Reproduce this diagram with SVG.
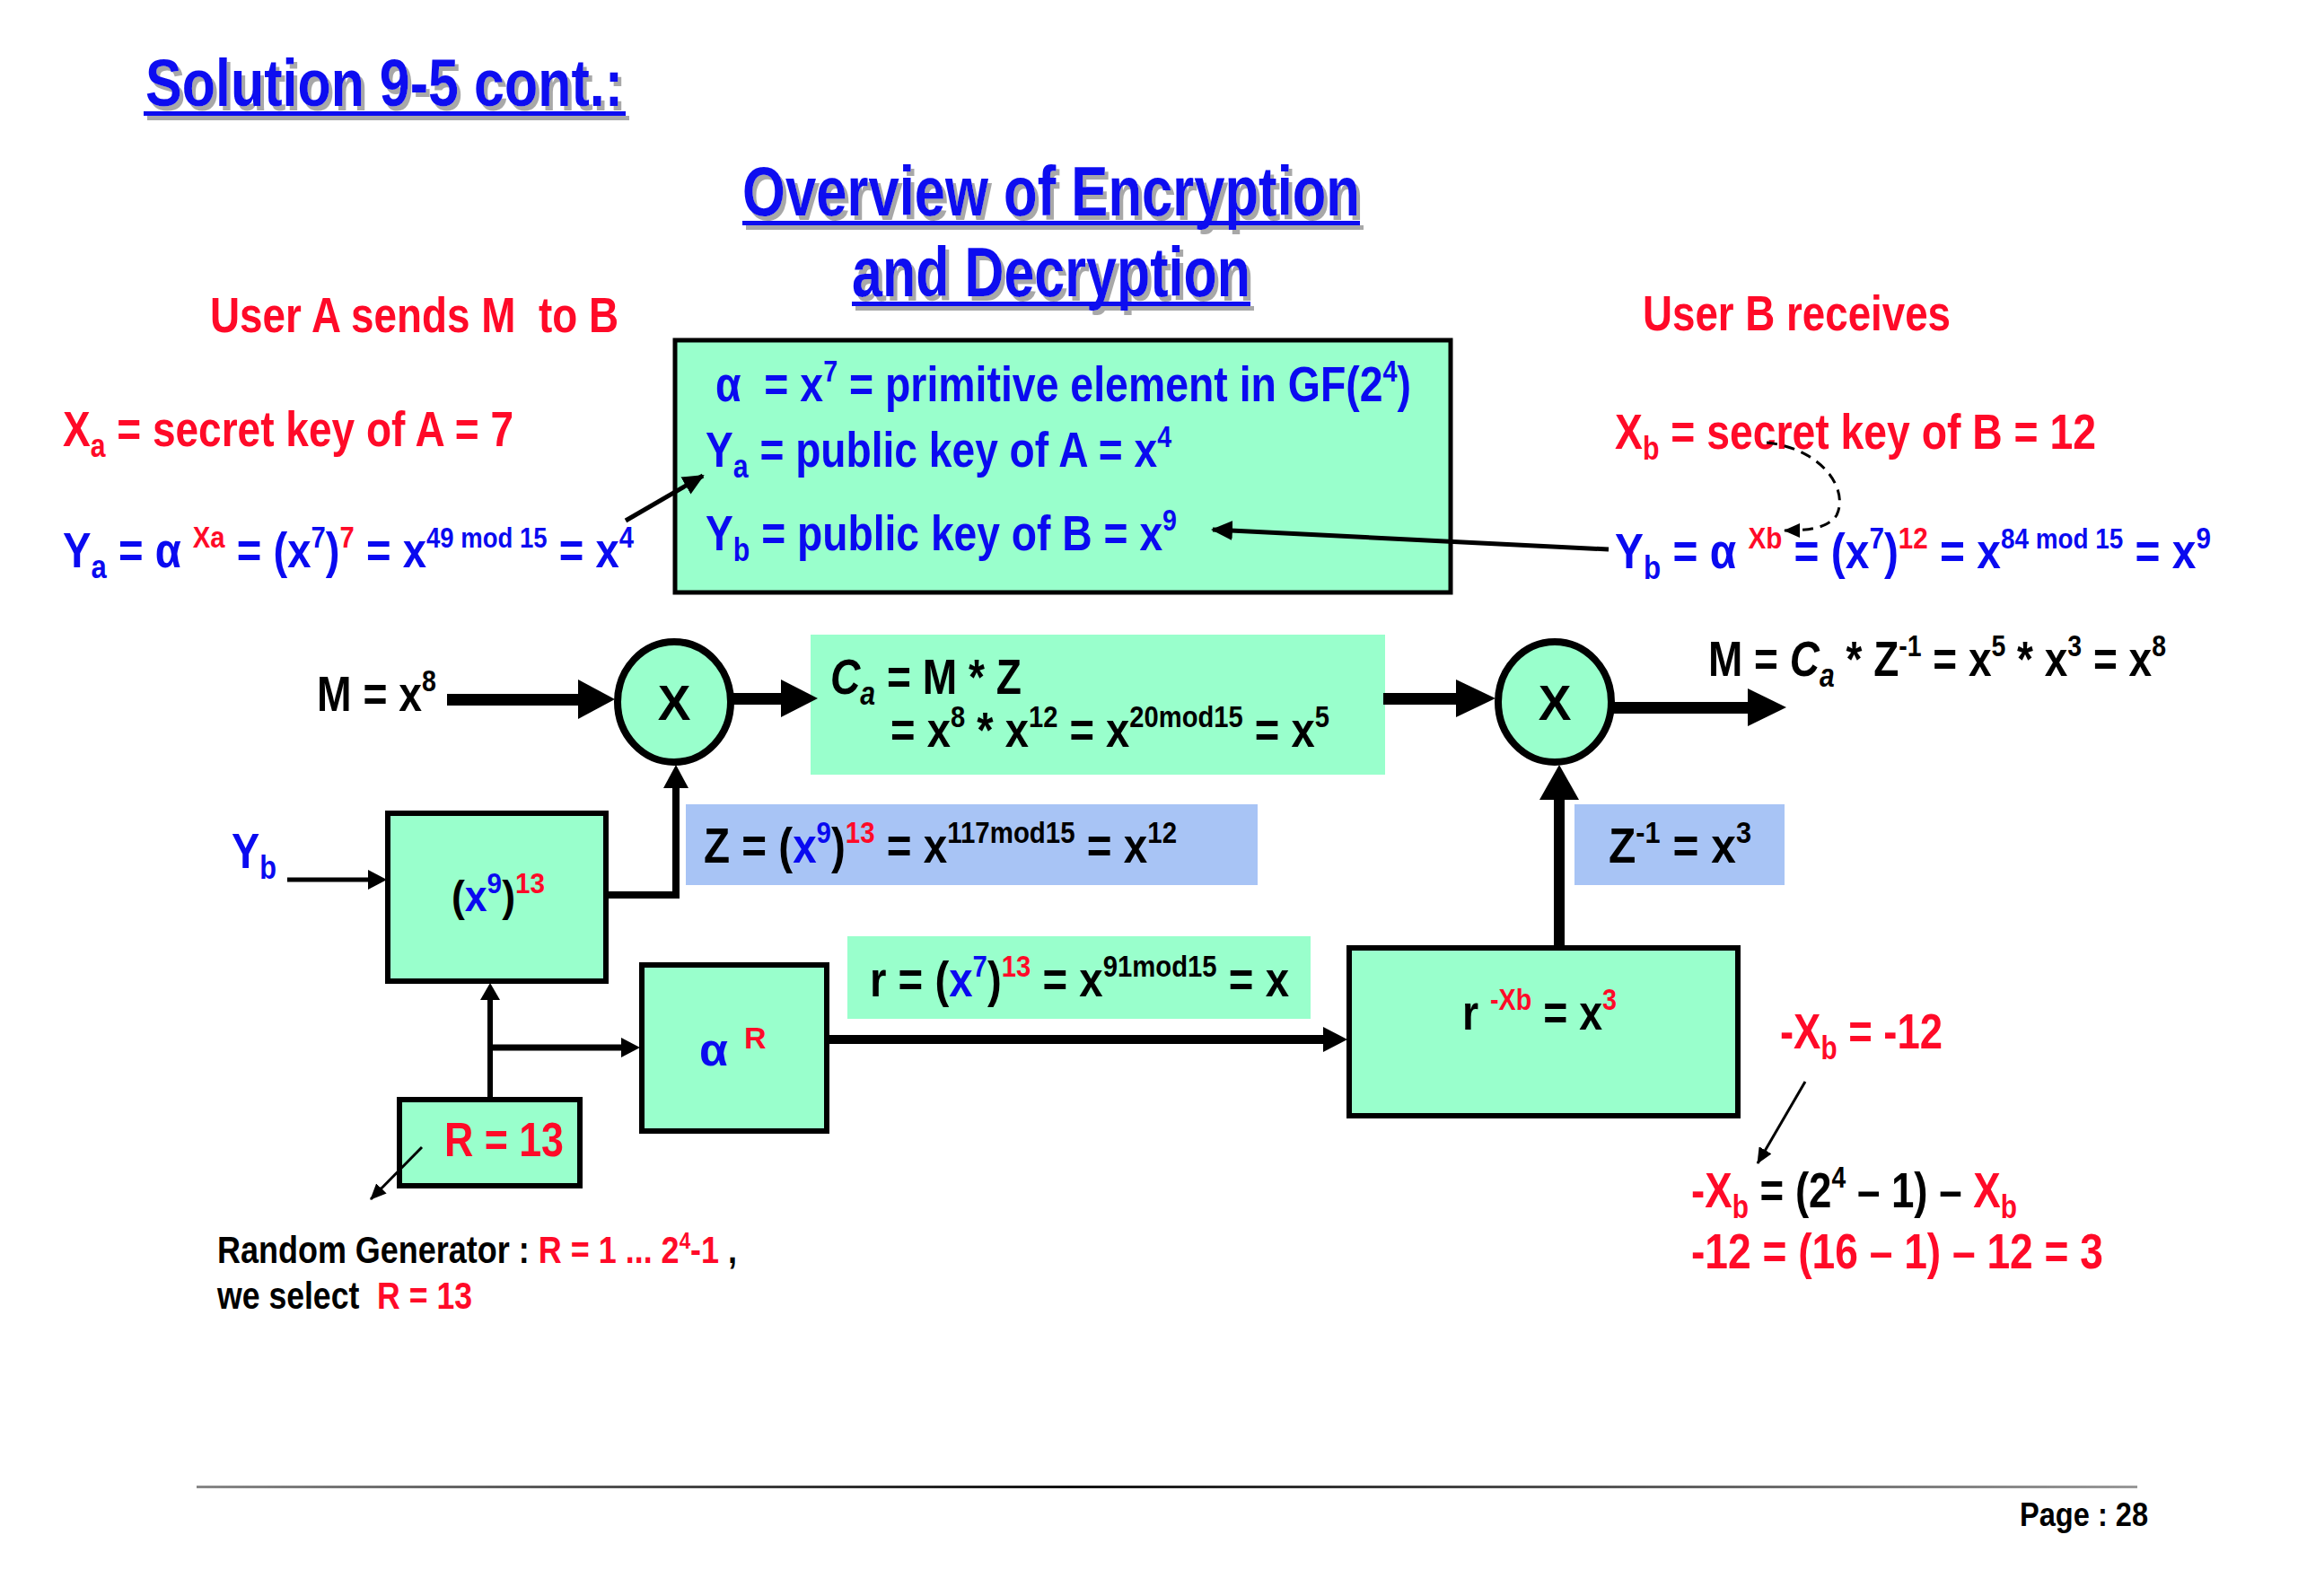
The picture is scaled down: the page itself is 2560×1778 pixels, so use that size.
<svg xmlns="http://www.w3.org/2000/svg" width="2560" height="1778" viewBox="0 0 2560 1778">
<style>
.t{font-family:"Liberation Sans",Arial,sans-serif;font-weight:bold}
.b{fill:#0A0AF0}.r{fill:#FF0A28}.k{fill:#000}
.mint{fill:#99FFCC}.blu{fill:#A8C4F5}
.box{fill:#99FFCC;stroke:#000;stroke-width:6}
.ln{stroke:#000;fill:none}
</style>
<defs>
<marker id="ah" markerUnits="userSpaceOnUse" markerWidth="24" markerHeight="24" viewBox="0 0 24 24" refX="22" refY="12" orient="auto"><path d="M0,1 L24,12 L0,23 z" fill="#000"/></marker>
<marker id="as" markerUnits="userSpaceOnUse" markerWidth="18" markerHeight="16" viewBox="0 0 18 16" refX="17" refY="8" orient="auto"><path d="M0,0 L18,8 L0,16 z" fill="#000"/></marker>
<filter id="shadow" x="-5%" y="-20%" width="110%" height="150%"><feOffset in="SourceAlpha" dx="4" dy="5" result="o"/><feFlood flood-color="#A8A8A8"/><feComposite in2="o" operator="in" result="s"/><feMerge><feMergeNode in="s"/><feMergeNode in="SourceGraphic"/></feMerge></filter>
<linearGradient id="fg" x1="0" x2="1" y1="0" y2="0"><stop offset="0" stop-color="#888"/><stop offset="0.45" stop-color="#111"/><stop offset="1" stop-color="#999"/></linearGradient>
</defs>
<rect width="2560" height="1778" fill="#fff"/>

<g id="titles" filter="url(#shadow)">
<text class="t b" x="162" y="118" font-size="75" textLength="532" lengthAdjust="spacingAndGlyphs">Solution 9-5 cont.:</text>
<rect x="160" y="124" width="537" height="5" class="b"/>
<text class="t b" x="827" y="240" font-size="77" textLength="688" lengthAdjust="spacingAndGlyphs">Overview of Encryption</text>
<rect x="827" y="246" width="688" height="5" class="b"/>
<text class="t b" x="949" y="330" font-size="77" textLength="444" lengthAdjust="spacingAndGlyphs">and Decryption</text>
<rect x="949" y="336" width="444" height="5" class="b"/>
</g>

<g id="userA">
<text class="t r" x="234" y="370" font-size="55" textLength="455" lengthAdjust="spacingAndGlyphs" xml:space="preserve">User A sends M  to B</text>
<text class="t r" x="70" y="497" font-size="55" textLength="502" lengthAdjust="spacingAndGlyphs">X<tspan font-size="36" dy="12">a</tspan><tspan dy="-12"> = secret key of A = 7</tspan></text>
<text class="t b" x="70" y="632" font-size="55" textLength="636" lengthAdjust="spacingAndGlyphs">Y<tspan font-size="36" dy="12">a</tspan><tspan dy="-12"> = α </tspan><tspan class="r" font-size="34" dy="-22">Xa</tspan><tspan dy="22"> = (x</tspan><tspan font-size="34" dy="-22">7</tspan><tspan dy="22">)</tspan><tspan class="r" font-size="34" dy="-22">7</tspan><tspan dy="22"> = x</tspan><tspan font-size="32" dy="-22">49 mod 15</tspan><tspan dy="22"> = x</tspan><tspan font-size="34" dy="-22">4</tspan></text>
</g>

<g id="userB">
<text class="t r" x="1830" y="368" font-size="55" textLength="343" lengthAdjust="spacingAndGlyphs">User B receives</text>
<text class="t r" x="1799" y="500" font-size="55" textLength="536" lengthAdjust="spacingAndGlyphs">X<tspan font-size="36" dy="12">b</tspan><tspan dy="-12"> = secret key of B = 12</tspan></text>
<text class="t b" x="1799" y="633" font-size="55" textLength="664" lengthAdjust="spacingAndGlyphs">Y<tspan font-size="36" dy="12">b</tspan><tspan dy="-12"> = α </tspan><tspan class="r" font-size="34" dy="-22">Xb</tspan><tspan dy="22"> = (x</tspan><tspan font-size="34" dy="-22">7</tspan><tspan dy="22">)</tspan><tspan class="r" font-size="34" dy="-22">12</tspan><tspan dy="22"> = x</tspan><tspan font-size="32" dy="-22">84 mod 15</tspan><tspan dy="22"> = x</tspan><tspan font-size="34" dy="-22">9</tspan></text>
</g>

<g id="keys">
<rect x="752" y="379" width="864" height="281" class="box" style="stroke-width:5"/>
<text class="t b" x="797" y="447" font-size="55" textLength="775" lengthAdjust="spacingAndGlyphs" xml:space="preserve">α  = x<tspan font-size="34" dy="-22">7</tspan><tspan dy="22"> = primitive element in GF(2</tspan><tspan font-size="34" dy="-22">4</tspan><tspan dy="22">)</tspan></text>
<text class="t b" x="786" y="520" font-size="55" textLength="519" lengthAdjust="spacingAndGlyphs">Y<tspan font-size="36" dy="12">a</tspan><tspan dy="-12"> = public key of A = x</tspan><tspan font-size="34" dy="-22">4</tspan></text>
<text class="t b" x="786" y="613" font-size="55" textLength="525" lengthAdjust="spacingAndGlyphs">Y<tspan font-size="36" dy="12">b</tspan><tspan dy="-12"> = public key of B = x</tspan><tspan font-size="34" dy="-22">9</tspan></text>
</g>

<g id="message">
<text class="t k" x="353" y="792" font-size="55" textLength="133" lengthAdjust="spacingAndGlyphs">M = x<tspan font-size="34" dy="-22">8</tspan></text>
</g>

<g id="mult1">
<ellipse cx="751" cy="782" rx="63" ry="67" class="mint" stroke="#000" stroke-width="8"/>
<text class="t k" x="751" y="802" font-size="55" text-anchor="middle">X</text>
</g>

<g id="cipher">
<rect x="903" y="707" width="640" height="156" class="mint"/>
<text class="t k" x="925" y="773" font-size="55" textLength="213" lengthAdjust="spacingAndGlyphs"><tspan font-style="italic">C</tspan><tspan font-style="italic" font-size="36" dy="12">a</tspan><tspan dy="-12"> = M * Z</tspan></text>
<text class="t k" x="992" y="832" font-size="55" textLength="489" lengthAdjust="spacingAndGlyphs">= x<tspan font-size="34" dy="-22">8</tspan><tspan dy="22"> * x</tspan><tspan font-size="34" dy="-22">12</tspan><tspan dy="22"> = x</tspan><tspan font-size="34" dy="-22">20mod15</tspan><tspan dy="22"> = x</tspan><tspan font-size="34" dy="-22">5</tspan></text>
</g>

<g id="mult2">
<ellipse cx="1732" cy="782" rx="63" ry="67" class="mint" stroke="#000" stroke-width="8"/>
<text class="t k" x="1732" y="802" font-size="55" text-anchor="middle">X</text>
</g>

<g id="output">
<text class="t k" x="1903" y="753" font-size="55" textLength="510" lengthAdjust="spacingAndGlyphs">M = <tspan font-style="italic">C</tspan><tspan font-style="italic" font-size="36" dy="12">a</tspan><tspan dy="-12"> * Z</tspan><tspan font-size="34" dy="-22">-1</tspan><tspan dy="22"> = x</tspan><tspan font-size="34" dy="-22">5</tspan><tspan dy="22"> * x</tspan><tspan font-size="34" dy="-22">3</tspan><tspan dy="22"> = x</tspan><tspan font-size="34" dy="-22">8</tspan></text>
</g>

<g id="zlabel">
<rect x="764" y="896" width="637" height="90" class="blu"/>
<text class="t k" x="784" y="961" font-size="55" textLength="527" lengthAdjust="spacingAndGlyphs">Z = (<tspan class="b">x</tspan><tspan class="b" font-size="34" dy="-22">9</tspan><tspan dy="22">)</tspan><tspan class="r" font-size="34" dy="-22">13</tspan><tspan dy="22"> = x</tspan><tspan font-size="34" dy="-22">117mod15</tspan><tspan dy="22"> = x</tspan><tspan font-size="34" dy="-22">12</tspan></text>
</g>

<g id="zinv">
<rect x="1754" y="896" width="234" height="90" class="blu"/>
<text class="t k" x="1792" y="961" font-size="55" textLength="159" lengthAdjust="spacingAndGlyphs">Z<tspan font-size="34" dy="-22">-1</tspan><tspan dy="22"> = x</tspan><tspan font-size="34" dy="-22">3</tspan></text>
</g>

<g id="ybinput">
<text class="t b" x="258" y="967" font-size="55" textLength="50" lengthAdjust="spacingAndGlyphs">Y<tspan font-size="36" dy="12">b</tspan></text>
</g>

<g id="powbox">
<rect x="432" y="906" width="243" height="187" class="box"/>
<text class="t k" x="503" y="1015" font-size="48" textLength="104" lengthAdjust="spacingAndGlyphs">(<tspan class="b">x</tspan><tspan class="b" font-size="32" dy="-20">9</tspan><tspan dy="20">)</tspan><tspan class="r" font-size="32" dy="-20">13</tspan></text>
</g>

<g id="rlabel">
<rect x="944" y="1043" width="516" height="92" class="mint"/>
<text class="t k" x="969" y="1110" font-size="55" textLength="467" lengthAdjust="spacingAndGlyphs">r = (<tspan class="b">x</tspan><tspan class="b" font-size="34" dy="-22">7</tspan><tspan dy="22">)</tspan><tspan class="r" font-size="34" dy="-22">13</tspan><tspan dy="22"> = x</tspan><tspan font-size="34" dy="-22">91mod15</tspan><tspan dy="22"> = x</tspan></text>
</g>

<g id="alphaR">
<rect x="715" y="1075" width="206" height="185" class="box"/>
<text class="t b" x="779" y="1187" font-size="52">α</text>
<text class="t r" x="829" y="1168" font-size="34">R</text>
</g>

<g id="rgen">
<rect x="445" y="1225" width="201" height="96" class="box"/>
<text class="t r" x="495" y="1288" font-size="53" textLength="133" lengthAdjust="spacingAndGlyphs">R = 13</text>
</g>

<g id="rinv">
<rect x="1503" y="1056" width="433" height="187" class="box"/>
<text class="t k" x="1629" y="1147" font-size="55" textLength="172" lengthAdjust="spacingAndGlyphs" xml:space="preserve">r <tspan class="r" font-size="34" dy="-22">-Xb</tspan><tspan dy="22"> = x</tspan><tspan class="r" font-size="34" dy="-22">3</tspan></text>
</g>

<g id="negxb">
<text class="t r" x="1983" y="1168" font-size="55" textLength="181" lengthAdjust="spacingAndGlyphs">-X<tspan font-size="36" dy="12">b</tspan><tspan dy="-12"> = -12</tspan></text>
<text class="t r" x="1884" y="1345" font-size="55" textLength="363" lengthAdjust="spacingAndGlyphs">-X<tspan font-size="36" dy="12">b</tspan><tspan class="k" dy="-12"> = (2</tspan><tspan class="k" font-size="34" dy="-22">4</tspan><tspan class="k" dy="22"> – 1) – </tspan>X<tspan font-size="36" dy="12">b</tspan></text>
<text class="t r" x="1884" y="1413" font-size="55" textLength="459" lengthAdjust="spacingAndGlyphs">-12 = (16 – 1) – 12 = 3</text>
</g>

<g id="rgentext">
<text class="t k" x="242" y="1407" font-size="42" textLength="579" lengthAdjust="spacingAndGlyphs">Random Generator : <tspan class="r">R = 1 ... 2</tspan><tspan class="r" font-size="26" dy="-16">4</tspan><tspan class="r" dy="16">-1</tspan> ,</text>
<text class="t k" x="242" y="1458" font-size="42" textLength="284" lengthAdjust="spacingAndGlyphs" xml:space="preserve">we select  <tspan class="r">R = 13</tspan></text>
</g>

<g id="footer">
<rect x="219" y="1655" width="2162" height="3" fill="url(#fg)"/>
<text class="t k" x="2250" y="1700" font-size="36" textLength="143" lengthAdjust="spacingAndGlyphs">Page : 28</text>
</g>

<g id="connectors">
<line x1="697" y1="580" x2="783" y2="530" class="ln" stroke-width="5" marker-end="url(#ah)"/>
<line x1="1792" y1="612" x2="1351" y2="590" class="ln" stroke-width="5" marker-end="url(#ah)"/>
<path d="M1968,493 C2030,500 2060,545 2046,574 C2035,590 2010,591 1988,591" class="ln" stroke-width="3" stroke-dasharray="12 8" marker-end="url(#as)"/>
<rect x="498" y="773" width="150" height="13" fill="#000"/>
<polygon points="644,757 685,779 644,801" fill="#000"/>
<rect x="816" y="772" width="58" height="13" fill="#000"/>
<polygon points="870,757 911,778 870,799" fill="#000"/>
<rect x="1541" y="772" width="85" height="13" fill="#000"/>
<polygon points="1622,757 1666,778 1622,799" fill="#000"/>
<rect x="1797" y="782" width="152" height="13" fill="#000"/>
<polygon points="1947,767 1990,788 1947,809" fill="#000"/>
<path d="M675,997 H753 V876" class="ln" stroke-width="8"/>
<polygon points="739,878 753,852 767,878" fill="#000"/>
<line x1="320" y1="980" x2="412" y2="980" class="ln" stroke-width="5"/>
<polygon points="410,969 431,980 410,991" fill="#000"/>
<line x1="546" y1="1222" x2="546" y2="1110" class="ln" stroke-width="6"/>
<polygon points="535,1114 546,1095 557,1114" fill="#000"/>
<line x1="546" y1="1167" x2="695" y2="1167" class="ln" stroke-width="7"/>
<polygon points="692,1156 713,1167 692,1178" fill="#000"/>
<line x1="924" y1="1158" x2="1478" y2="1158" class="ln" stroke-width="10"/>
<polygon points="1474,1144 1501,1158 1474,1172" fill="#000"/>
<rect x="1731" y="888" width="12" height="166" fill="#000"/>
<polygon points="1715,891 1737,852 1759,891" fill="#000"/>
<line x1="470" y1="1278" x2="413" y2="1336" class="ln" stroke-width="3" marker-end="url(#as)"/>
<line x1="2011" y1="1205" x2="1958" y2="1296" class="ln" stroke-width="3" marker-end="url(#as)"/>
</g>
</svg>
